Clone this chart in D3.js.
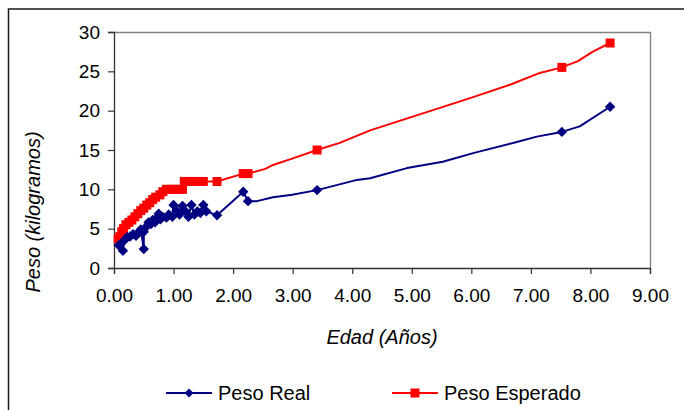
<!DOCTYPE html>
<html><head><meta charset="utf-8">
<script src="https://cdn.jsdelivr.net/npm/d3@7"></script>
<style>
body{margin:0;background:#fff}
svg{display:block}
text{font-family:"Liberation Sans",Arial,sans-serif;fill:#000}
</style>
</head><body>
<svg id="c" width="684" height="410"></svg>
<script>
const xTicks=[0,1,2,3,4,5,6,7,8,9];
const yTicks=[0,5,10,15,20,25,30];
const seriesNames=["Peso Real","Peso Esperado"];
const xTitle="Edad (Años)";
const yTitle="Peso (kilogramos)";

const realX=[0.08,0.15,0.17,0.22,0.27,0.32,0.37,0.42,0.45,0.50,0.50,0.55,0.58,0.62,0.65,0.69,0.72,0.75,0.78,0.82,0.88,0.92,0.98,1.00,1.05,1.10,1.15,1.20,1.25,1.30,1.35,1.40,1.45,1.50,1.55,1.73,2.17,2.25,2.40,2.67,2.99,3.41,4.08,4.30,4.92,5.52,6.03,6.70,7.10,7.52,7.82,8.33];
const realY=[2.9,2.2,3.5,3.9,4.0,4.3,4.1,4.6,4.9,2.4,4.6,5.3,5.8,5.6,6.1,5.8,6.4,6.9,6.2,6.5,6.4,6.8,6.5,8.0,7.3,6.8,7.9,7.2,6.5,8.0,6.8,7.2,7.0,8.0,7.2,6.7,9.7,8.5,8.5,9.0,9.3,9.9,11.2,11.4,12.7,13.5,14.6,15.9,16.7,17.3,18.0,20.5];
const realMarked=[1,1,1,1,1,1,1,1,1,1,1,1,1,1,1,1,1,1,1,1,1,1,1,1,1,1,1,1,1,1,1,1,1,1,1,1,1,1,0,0,0,1,0,0,0,0,0,0,0,1,0,1];

const espX=[0.07,0.10,0.13,0.16,0.20,0.25,0.30,0.35,0.40,0.45,0.50,0.55,0.60,0.65,0.70,0.77,0.82,0.88,0.95,1.00,1.08,1.15,1.18,1.25,1.33,1.42,1.50,1.73,2.17,2.25,2.54,2.67,2.99,3.41,3.79,4.30,5.98,6.65,7.15,7.52,7.79,8.04,8.33];
const espY=[3.7,4.0,4.6,5.0,5.5,5.8,6.1,6.5,6.9,7.3,7.6,8.0,8.3,8.7,9.0,9.3,9.7,10.0,10.0,10.0,10.0,10.0,11.0,11.0,11.0,11.0,11.0,11.0,12.0,12.0,12.6,13.1,13.9,15.0,15.9,17.5,21.6,23.3,24.8,25.5,26.3,27.5,28.6];
const espMarked=[1,1,1,1,1,1,1,1,1,1,1,1,1,1,1,1,1,1,1,1,1,1,1,1,1,1,1,1,1,1,0,0,0,1,0,0,0,0,0,1,0,0,1];

const colors=["#000080","#ff0000"];

const svg=d3.select("#c");
const W=684,H=410;
const pl=114,pr=650,pt=32,pb=268;

svg.append("rect").attr("x",8.5).attr("y",9).attr("width",W+20).attr("height",H+20)
  .attr("fill","#fff").attr("stroke","#1a1a1a").attr("stroke-width",1.5);

const x=d3.scaleLinear().domain([0,9]).range([pl,pr]);
const y=d3.scaleLinear().domain([0,30]).range([pb,pt]);

svg.append("path").attr("d",`M${pl},${pt+0.5}H${pr+0.5}V${pb}`)
  .attr("fill","none").attr("stroke","#808080").attr("stroke-width",1.3);

const fs=19;
const gy=svg.append("g").attr("transform",`translate(${pl},0)`)
  .call(d3.axisLeft(y).tickValues(yTicks).tickFormat(d3.format("d")).tickSizeOuter(0).tickSize(6).tickPadding(8));
const gx=svg.append("g").attr("transform",`translate(0,${pb})`)
  .call(d3.axisBottom(x).tickValues(xTicks).tickFormat(d3.format(".2f")).tickSizeOuter(0).tickSize(6).tickPadding(15));
[gx,gy].forEach(g=>{
  g.selectAll("path.domain").attr("stroke","#333").attr("stroke-width",1.3);
  g.selectAll(".tick line").attr("stroke","#333").attr("stroke-width",1.2);
  g.selectAll(".tick text").attr("font-size",fs).attr("font-family","Liberation Sans, Arial, sans-serif").attr("fill","#000");
});

svg.append("text").attr("x",(pl+pr)/2).attr("y",344).attr("text-anchor","middle")
  .attr("font-size",20).attr("font-style","italic").text(xTitle);
svg.append("text").attr("transform",`translate(40,212) rotate(-90)`).attr("text-anchor","middle")
  .attr("font-size",20).attr("font-style","italic").text(yTitle);

const diamond=r=>`M0,${-r}L${r},0L0,${r}L${-r},0Z`;
function drawSeries(xs,ys,marked,color,kind){
  const pts=xs.map((v,i)=>({x:v,y:ys[i],m:marked[i]}));
  const g=svg.append("g");
  g.append("path").datum(pts).attr("fill","none").attr("stroke",color).attr("stroke-width",2)
    .attr("stroke-linejoin","round")
    .attr("d",d3.line().x(d=>x(d.x)).y(d=>y(d.y)));
  const mk=pts.filter(d=>d.m);
  if(kind==="square"){
    g.selectAll("rect").data(mk).join("rect")
      .attr("x",d=>x(d.x)-4.5).attr("y",d=>y(d.y)-4.5).attr("width",9).attr("height",9)
      .attr("fill",color);
  } else {
    g.selectAll("path.m").data(mk).join("path").attr("class","m")
      .attr("transform",d=>`translate(${x(d.x)},${y(d.y)})`).attr("d",diamond(5.2))
      .attr("fill",color);
  }
}
drawSeries(espX,espY,espMarked,colors[1],"square");
drawSeries(realX,realY,realMarked,colors[0],"diamond");

const ly=393;
const leg=[{x:166,name:seriesNames[0],c:colors[0],k:"diamond"},{x:392,name:seriesNames[1],c:colors[1],k:"square"}];
leg.forEach(l=>{
  svg.append("line").attr("x1",l.x).attr("x2",l.x+46).attr("y1",ly).attr("y2",ly).attr("stroke",l.c).attr("stroke-width",2);
  if(l.k==="square") svg.append("rect").attr("x",l.x+23-4.5).attr("y",ly-4.5).attr("width",9).attr("height",9).attr("fill",l.c);
  else svg.append("path").attr("transform",`translate(${l.x+23},${ly})`).attr("d",diamond(4.5)).attr("fill",l.c);
  svg.append("text").attr("x",l.x+52).attr("y",ly+7).attr("font-size",20).text(l.name);
});
</script>
</body></html>
